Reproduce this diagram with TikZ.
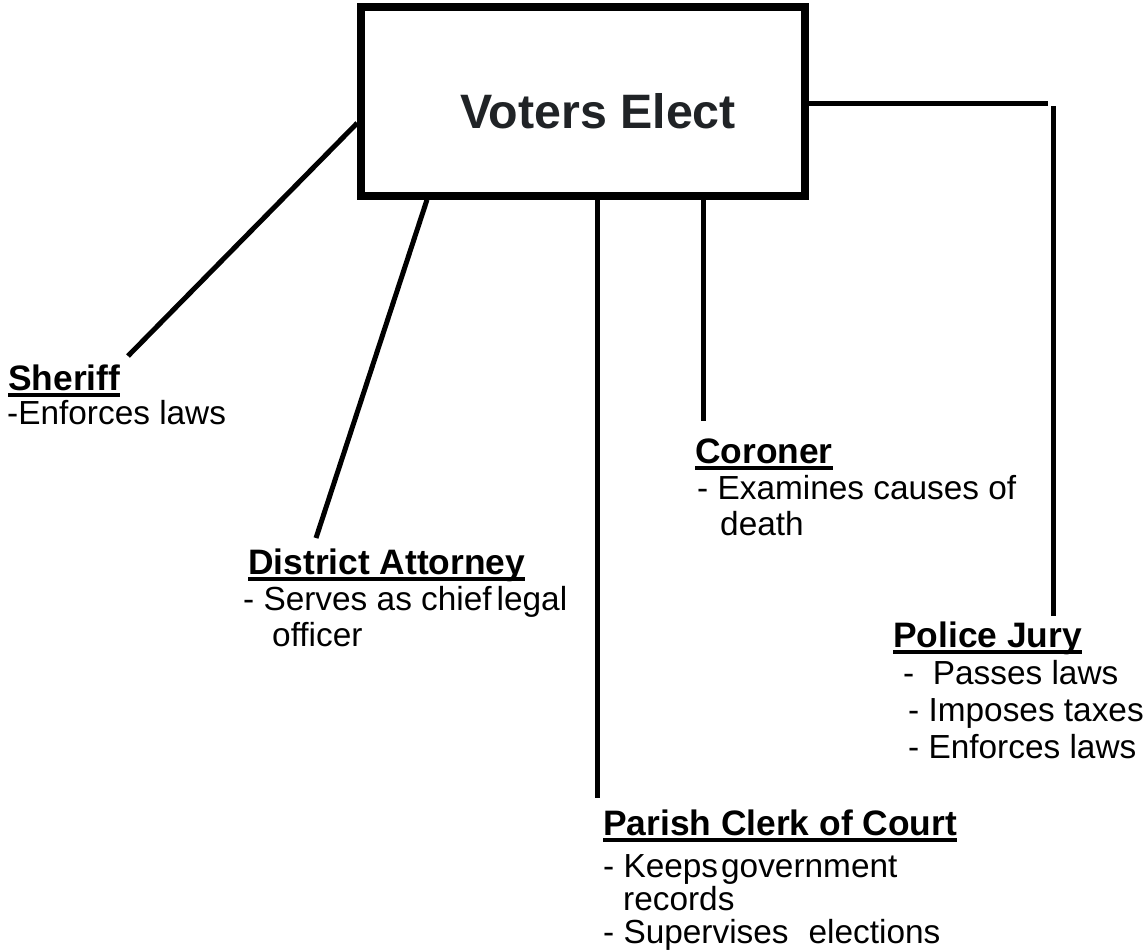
\documentclass[tikz,border=0pt]{standalone}
\usepackage{fontspec}
\setmainfont{Liberation Sans}
\definecolor{titlegray}{RGB}{32,35,38}
\begin{document}
\begin{tikzpicture}[x=1bp,y=-1bp,
  conn/.style={line width=5bp},
  head/.style={anchor=base west, inner sep=0pt, font=\fontsize{35.5}{39}\selectfont\bfseries},
  body/.style={anchor=base west, inner sep=0pt, font=\fontsize{33.5}{37}\selectfont},
  ul/.style={line width=4bp}]
\useasboundingbox (0,0) rectangle (1145,952);
% main box
\node[draw, line width=7.5bp, minimum width=444bp, minimum height=189bp, inner sep=0pt] (voters) at (583,101.5) {};
\node[anchor=base west, inner sep=0pt, text=titlegray, font=\fontsize{48.5}{53}\selectfont\bfseries] (title) at (460,128) {Voters Elect};
% Sheriff
\node[head] (shH) at (8,390) {Sheriff};
\node[body] (sh1) at (7,424) {-Enforces laws};
% District Attorney
\node[head] (daH) at (248,574) {District Attorney};
\node[body] (da1) at (243,610) {- Serves as chief\hspace{5bp}legal};
\node[body] (da2) at (272,646) {officer};
% Coroner
\node[head] (coH) at (695,463) {Coroner};
\node[body] (co1) at (697,499) {- Examines causes of};
\node[body] (co2) at (720,535) {death};
% Police Jury
\node[head] (pjH) at (893,647) {Police Jury};
\node[body] (pj1) at (903,684) {-\ \ Passes laws};
\node[body] (pj2) at (908,721) {- Imposes taxes};
\node[body] (pj3) at (908,758) {- Enforces laws};
% Parish Clerk of Court
\node[head] (pcH) at (603,835) {Parish Clerk of Court};
\node[body] (pc1) at (603,877) {- Keeps\hspace{3bp}government};
\node[body] (pc2) at (623,910) {records};
\node[body] (pc3) at (603,943) {- Supervises\hspace{20bp}elections};
% underlines
\foreach \n in {shH,daH,coH,pjH,pcH}
  \draw[ul] ([yshift=-5bp]\n.base west) -- ([yshift=-5bp]\n.base east);
% connector free ends
\coordinate (shE) at (128,356);
\coordinate (daE) at (316,538);
\coordinate (coE) at (703,421);
\coordinate (pcE) at (597,798);
\coordinate (pjC) at (1048,103);
\coordinate (pjT) at (1053,106);
\coordinate (pjE) at (1053,616);
% connectors
\draw[conn] ([yshift=-21.5bp]voters.west) -- (shE);
\draw[conn] ([xshift=-156bp]voters.south) -- (daE);
\draw[conn] (voters.south -| pcE) -- (pcE);
\draw[conn] (voters.south -| coE) -- (coE);
\draw[conn] (voters.east |- pjC) -- (pjC);
\draw[conn] (pjT) -- (pjE);
\end{tikzpicture}
\end{document}
